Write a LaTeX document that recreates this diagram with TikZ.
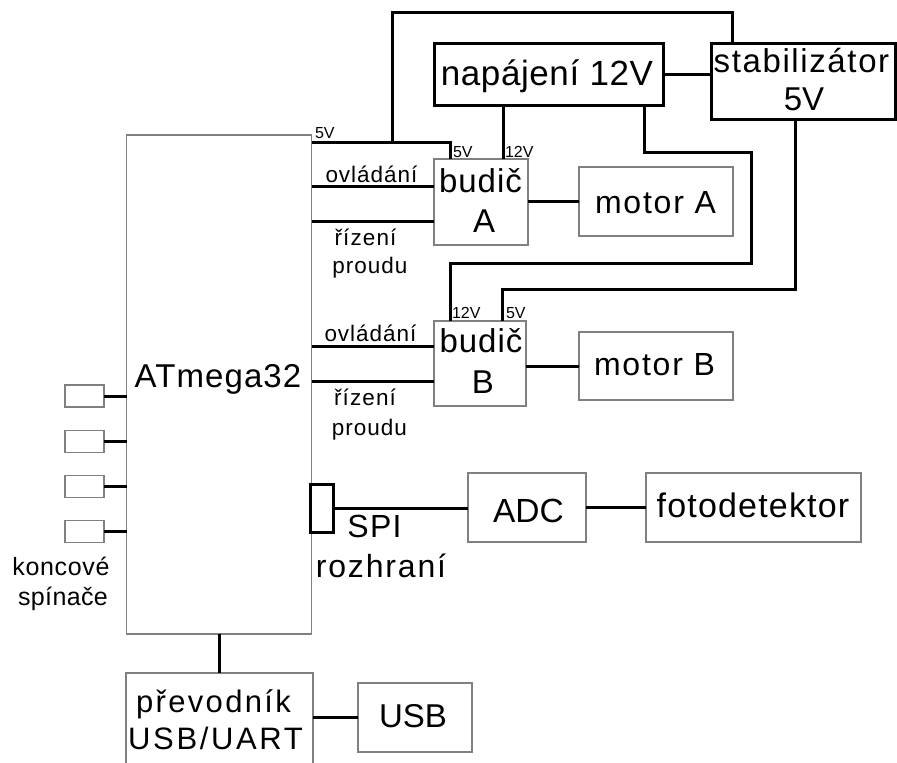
\documentclass[tikz,border=0pt]{standalone}
\usepackage{fontspec}
\setmainfont{Liberation Sans}
\usetikzlibrary{calc}
\newcommand\txt[3]{\fontsize{#1}{#1}\selectfont\addfontfeature{LetterSpace=#2}#3}
\begin{document}
\begin{tikzpicture}[x=1pt,y=-1pt,
  wire/.style={line width=3pt,draw=black},
  thinbox/.style={draw=black!50,line width=1.3pt,inner sep=0pt,outer sep=0pt,fill=white},
  thickbox/.style={draw=black,line width=3pt,inner sep=0pt,outer sep=0pt,fill=white},
  lbl/.style={anchor=base,inner sep=0pt,outer sep=0pt},
  lbll/.style={anchor=base west,inner sep=0pt,outer sep=0pt}]
\useasboundingbox (0,0) rectangle (897,763);
\clip (0,0) rectangle (897,763);
\fill[white] (0,0) rectangle (897,763);

% boxes
\node[thinbox,minimum width=185pt,minimum height=499pt] (atm) at (219,384.5) {};
\foreach \i/\y in {1/396,2/441.5,3/486.5,4/531.5}
  \node[thinbox,minimum width=39pt,minimum height=22pt] (sw\i) at (84.5,\y) {};
\node[thinbox,minimum width=94pt,minimum height=86pt] (budA) at (481,202) {};
\node[thinbox,minimum width=154pt,minimum height=69pt] (motA) at (656,201.5) {};
\node[thinbox,minimum width=92pt,minimum height=85pt] (budB) at (480,363.5) {};
\node[thinbox,minimum width=154pt,minimum height=68pt] (motB) at (656,366) {};
\node[thickbox,minimum width=229pt,minimum height=62pt] (nap) at (548.5,74) {};
\node[thickbox,minimum width=184pt,minimum height=76pt] (stab) at (803,81) {};
\node[thickbox,minimum width=23pt,minimum height=48pt] (spi) at (321.5,508) {};
\node[thinbox,minimum width=118pt,minimum height=69pt] (adc) at (527,507.5) {};
\node[thinbox,minimum width=215pt,minimum height=69pt] (foto) at (753.5,507.5) {};
\node[thinbox,minimum width=187pt,minimum height=100pt] (prev) at (219.5,723) {};
\node[thinbox,minimum width=114pt,minimum height=69pt] (usb) at (415,717.5) {};

% connectors
\coordinate (j5) at ($(atm.north east)+(80.5,7)$);
\draw[wire] ($(atm.north east)+(0,7)$) -| ($(budA.north west)+(16,0)$);
\draw[wire] (j5) -- ++(0,-130) -| ($(stab.north west)+(21,0)$);
\draw[wire] (nap.east) -- (nap.east -| stab.west);
\draw[wire] ($(nap.south west)+(69,0)$) -- ($(budA.north west)+(69,0)$);
\draw[wire] ($(nap.south west)+(210,0)$) -- ++(0,47) -| ++(107,111) -| ($(budB.north west)+(16,0)$);
\draw[wire] ($(stab.south west)+(84,0)$) |- ($(budB.north west)+(68,-32)$) -- ($(budB.north west)+(68,0)$);
\coordinate (oA) at ($(budA.west)+(0,-16)$);
\coordinate (rA) at ($(budA.west)+(0,19)$);
\draw[wire] (oA -| atm.east) -- (oA);
\draw[wire] (rA -| atm.east) -- (rA);
\draw[wire] (motA.west -| budA.east) -- (motA.west);
\coordinate (oB) at ($(budB.west)+(0,-17.5)$);
\coordinate (rB) at ($(budB.west)+(0,17.5)$);
\draw[wire] (oB -| atm.east) -- (oB);
\draw[wire] (rB -| atm.east) -- (rB);
\draw[wire] (motB.west -| budB.east) -- (motB.west);
\draw[wire] (spi.east) -- (adc.west |- spi.east);
\draw[wire] (adc.east) -- (foto.west);
\foreach \i in {1,2,3,4}
  \draw[wire] (sw\i.east) -- (sw\i.east -| atm.west);
\draw[wire] (atm.south) -- (atm.south |- prev.north);
\draw[wire] (usb.west -| prev.east) -- (usb.west);

% texts
\node[lbl] (tnap) at (547,85) {\txt{35}{1.7}{napájení 12V}};
\node[lbl] (tstab1) at (801.5,72) {\txt{33}{4.9}{stabilizátor}};
\node[lbl] (tstab2) at (804,110) {\txt{33}{0}{5V}};
\node[lbl] (tbudA1) at (480.5,192) {\txt{33}{3}{budič}};
\node[lbl] (tbudA2) at (484,232) {\txt{33}{0}{A}};
\node[lbl] (tmotA) at (655.5,213) {\txt{32}{5.6}{motor A}};
\node[lbl] (tovA) at (371.5,182) {\txt{22.5}{4.4}{ovládání}};
\node[lbl] (triA) at (365.5,245) {\txt{22.5}{5}{řízení}};
\node[lbl] (tprA) at (370,273) {\txt{22.5}{4.4}{proudu}};
\node[lbl] (tbudB1) at (481,352) {\txt{33}{3}{budič}};
\node[lbl] (tbudB2) at (483,393) {\txt{33}{0}{B}};
\node[lbl] (tmotB) at (654.5,375) {\txt{32}{5.6}{motor B}};
\node[lbl] (tovB) at (370.5,341) {\txt{22.5}{4.4}{ovládání}};
\node[lbl] (triB) at (365,405) {\txt{22.5}{5}{řízení}};
\node[lbl] (tprB) at (369.5,435) {\txt{22.5}{4.4}{proudu}};
\node[lbl] (tatm) at (218,387) {\txt{33}{3.3}{ATmega32}};
\node[lbl] (tspi) at (374.5,537) {\txt{32}{4}{SPI}};
\node[lbl] (troz) at (381,577) {\txt{32}{5.7}{rozhraní}};
\node[lbl] (tadc) at (528.5,522) {\txt{33.5}{0}{ADC}};
\node[lbl] (tfoto) at (753,517) {\txt{34}{3.5}{fotodetektor}};
\node[lbl] (tkon1) at (61,575) {\txt{25}{2.7}{koncové}};
\node[lbl] (tkon2) at (63,605) {\txt{25}{1.5}{spínače}};
\node[lbl] (tprev1) at (213.5,712) {\txt{31}{7.5}{převodník}};
\node[lbl] (tprev2) at (215.5,749) {\txt{31}{8.5}{USB/UART}};
\node[lbl] (tusb) at (413,727) {\txt{33}{0}{USB}};
% small voltage labels
\node[lbll] (v1) at (315,138) {\txt{16}{0}{5V}};
\node[lbll] (v2) at (453,157) {\txt{16}{0}{5V}};
\node[lbll] (v3) at (505,157) {\txt{16}{0}{12V}};
\node[lbll] (v4) at (452,318) {\txt{16}{0}{12V}};
\node[lbll] (v5) at (506,318) {\txt{16}{0}{5V}};
\end{tikzpicture}
\end{document}
